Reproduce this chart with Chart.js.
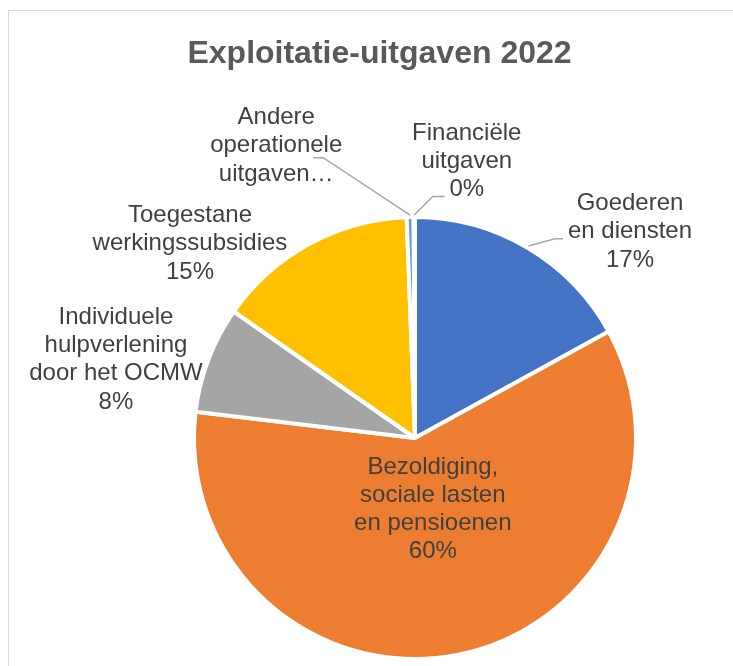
<!DOCTYPE html>
<html>
<head>
<meta charset="utf-8">
<script src="https://cdn.jsdelivr.net/npm/chart.js@4"></script>
<style>
  html, body { margin: 0; padding: 0; background: #fff; overflow: hidden; }
  canvas { display: block; }
</style>
</head>
<body>
<canvas id="c" width="733" height="666"></canvas>
<script>
// Operating expenditure 2022, share of total (%)
const categories = [
  'Goederen en diensten',
  'Bezoldiging, sociale lasten en pensioenen',
  'Individuele hulpverlening door het OCMW',
  'Toegestane werkingssubsidies',
  'Andere operationele uitgaven',
  'Financiële uitgaven'
];
const shares = [17.0, 59.9, 7.8, 14.7, 0.5, 0.1];
const colors = ['#4472C4', '#ED7D31', '#A5A5A5', '#FFC000', '#5B9BD5', '#70AD47'];
const labelLines = [
  ['Goederen', 'en diensten'],
  ['Bezoldiging,', 'sociale lasten', 'en pensioenen'],
  ['Individuele', 'hulpverlening', 'door het OCMW'],
  ['Toegestane', 'werkingssubsidies'],
  ['Andere', 'operationele', 'uitgaven…'],
  ['Financiële', 'uitgaven']
];
const showPercent = [true, true, true, true, false, true];
const chartTitle = 'Exploitatie-uitgaven 2022';

// Label placement: angle clockwise from 12 o'clock (deg), distance in pie radii,
// optional leader line points (elbow, end) relative to the label centre.
const labelPlacement = [
  { angle: 46.2,  dist: 1.348, leader: [[-75, 7], [-67, 7]] },
  { angle: 166.0, dist: 0.333 },
  { angle: -75.3, dist: 1.399 },
  { angle: -49.2, dist: 1.345 },
  { angle: -25.4, dist: 1.464, leader: [[47, 12], [37, 12]] },
  { angle: 10.6,  dist: 1.273, leader: [[-34, 35], [-22, 35]] }
];

const FRAME = { left: 8.5, top: 10.5, width: 742, height: 720 };
const LABEL_FONT = '24px "Liberation Sans", Arial, sans-serif';
const LINE_H = 28.3;

const framePlugin = {
  id: 'frameAndTitle',
  beforeDraw(chart) {
    const ctx = chart.ctx;
    ctx.save();
    ctx.fillStyle = '#ffffff';
    ctx.fillRect(0, 0, chart.width, chart.height);
    ctx.strokeStyle = '#D9D9D9';
    ctx.lineWidth = 1;
    ctx.strokeRect(FRAME.left, FRAME.top, FRAME.width, FRAME.height);
    ctx.fillStyle = '#595959';
    ctx.font = 'bold 32px "Liberation Sans", Arial, sans-serif';
    ctx.textAlign = 'center';
    ctx.textBaseline = 'alphabetic';
    ctx.fillText(chartTitle, FRAME.left + FRAME.width / 2, 63);
    ctx.restore();
  }
};

const labelPlugin = {
  id: 'sliceLabels',
  afterDatasetsDraw(chart) {
    const ctx = chart.ctx;
    const meta = chart.getDatasetMeta(0);
    const data = chart.data.datasets[0].data;
    const total = data.reduce((a, b) => a + b, 0);
    ctx.save();
    meta.data.forEach((arc, i) => {
      const p = arc.getProps(['x', 'y', 'startAngle', 'endAngle', 'outerRadius'], true);
      const R = p.outerRadius;
      const place = labelPlacement[i];
      const a = (place.angle - 90) * Math.PI / 180;
      const cx = p.x + Math.cos(a) * place.dist * R;
      const cy = p.y + Math.sin(a) * place.dist * R;

      if (place.leader) {
        const mid = (p.startAngle + p.endAngle) / 2;
        ctx.strokeStyle = '#A6A6A6';
        ctx.lineWidth = 1.5;
        ctx.beginPath();
        ctx.moveTo(p.x + Math.cos(mid) * (R + 2), p.y + Math.sin(mid) * (R + 2));
        place.leader.forEach(([dx, dy]) => ctx.lineTo(cx + dx, cy + dy));
        ctx.stroke();
      }

      const lines = labelLines[i].slice();
      if (showPercent[i]) lines.push(Math.round(data[i] / total * 100) + '%');
      ctx.font = LABEL_FONT;
      ctx.fillStyle = '#404040';
      ctx.textAlign = 'center';
      ctx.textBaseline = 'middle';
      lines.forEach((t, k) => {
        ctx.fillText(t, cx, cy + (k - (lines.length - 1) / 2) * LINE_H);
      });
    });
    ctx.restore();
  }
};

new Chart(document.getElementById('c'), {
  type: 'pie',
  data: {
    labels: categories,
    datasets: [{
      data: shares,
      backgroundColor: colors,
      borderColor: '#ffffff',
      borderWidth: 4,
      hoverOffset: 0
    }]
  },
  options: {
    responsive: false,
    devicePixelRatio: 1,
    animation: false,
    events: [],
    layout: { padding: { top: 215, bottom: 5, left: 192, right: 95 } },
    plugins: {
      legend: { display: false },
      title: { display: false },
      tooltip: { enabled: false }
    }
  },
  plugins: [framePlugin, labelPlugin]
});
</script>
</body>
</html>
